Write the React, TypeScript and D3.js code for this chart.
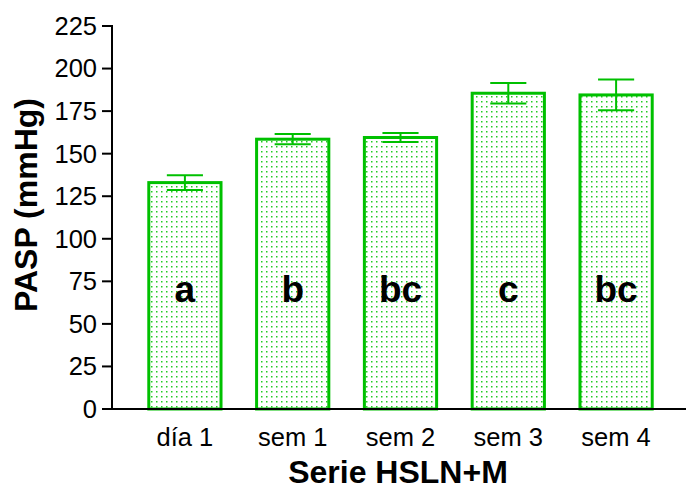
import React from "react";
import * as d3 from "d3";

const categories = ["día 1", "sem 1", "sem 2", "sem 3", "sem 4"];
const means = [133, 158.5, 159.5, 185.5, 184.5];
const errors = [4.3, 3, 2.7, 6, 9];
const groupLetters = ["a", "b", "bc", "c", "bc"];
const yTicks = [0, 25, 50, 75, 100, 125, 150, 175, 200, 225];

const W = 686;
const H = 489;
const axisX = 112;
const baseY = 409;
const green = "#00c000";
const font = "Arial, 'Liberation Sans', sans-serif";

export default function App() {
  const x = d3.scaleBand<string>().domain(categories).range([131, 670]).paddingInner(0.33).paddingOuter(0.165);
  const y = d3.scaleLinear().domain([0, 225]).range([baseY, 26]);
  const bw = x.bandwidth();

  return (
    <svg width={W} height={H} style={{ position: "absolute", left: 0, top: 0 }}>
      <defs>
        <pattern id="dots" width={5} height={5} patternUnits="userSpaceOnUse">
          <rect x={1} y={1} width={1.5} height={1.5} fill="#22cc22" />
        </pattern>
      </defs>
      <rect width={W} height={H} fill="white" />
      {categories.map((c, i) => {
        const x0 = x(c)!;
        const cx = x0 + bw / 2;
        const top = y(means[i]);
        return (
          <g key={c}>
            <rect x={x0} y={top} width={bw} height={baseY - top} fill="url(#dots)" stroke={green} strokeWidth={3} />
            <line x1={cx} x2={cx} y1={y(means[i] + errors[i])} y2={y(means[i] - errors[i])} stroke={green} strokeWidth={2} />
            <line x1={cx - bw / 4} x2={cx + bw / 4} y1={y(means[i] + errors[i])} y2={y(means[i] + errors[i])} stroke={green} strokeWidth={2} />
            <line x1={cx - bw / 4} x2={cx + bw / 4} y1={y(means[i] - errors[i])} y2={y(means[i] - errors[i])} stroke={green} strokeWidth={2} />
            <text x={cx} y={302} textAnchor="middle" fontFamily={font} fontWeight="bold" fontSize={37} fill="black">
              {groupLetters[i]}
            </text>
            <text x={cx} y={446} textAnchor="middle" fontFamily={font} fontSize={25.5} fill="black">
              {c}
            </text>
          </g>
        );
      })}
      <line x1={axisX} x2={axisX} y1={y(225) - 1} y2={baseY + 1} stroke="black" strokeWidth={2} />
      <line x1={axisX - 1} x2={W} y1={baseY} y2={baseY} stroke="black" strokeWidth={2} />
      {yTicks.map((t) => (
        <g key={t}>
          <line x1={axisX - 10} x2={axisX} y1={y(t)} y2={y(t)} stroke="black" strokeWidth={2} />
          <text x={axisX - 15} y={y(t)} dy="0.35em" textAnchor="end" fontFamily={font} fontSize={25.5} fill="black">
            {t}
          </text>
        </g>
      ))}
      <text transform={`translate(37,${205}) rotate(-90)`} textAnchor="middle" fontFamily={font} fontWeight="bold" fontSize={32} fill="black">
        PASP (mmHg)
      </text>
      <text x={398} y={483} textAnchor="middle" fontFamily={font} fontWeight="bold" fontSize={32} fill="black">
        Serie HSLN+M
      </text>
    </svg>
  );
}
